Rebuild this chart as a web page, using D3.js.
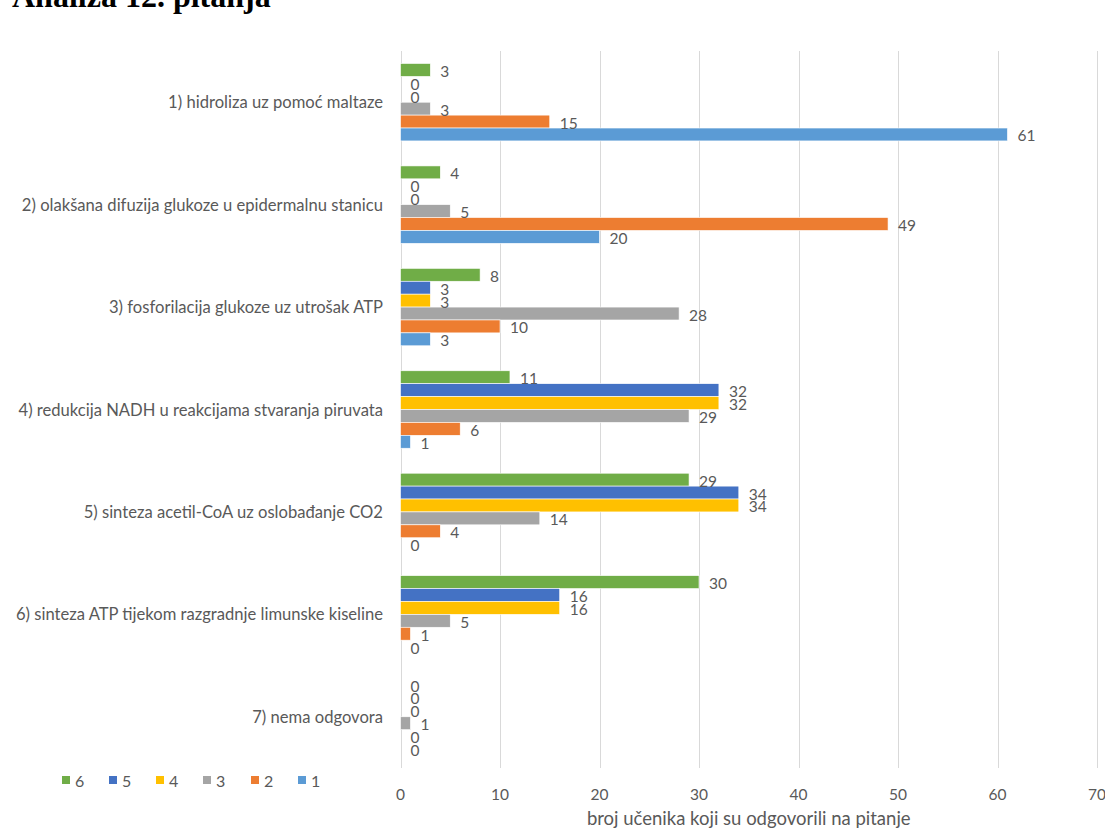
<!DOCTYPE html>
<html>
<head>
<meta charset="utf-8">
<script src="https://cdn.jsdelivr.net/npm/d3@7"></script>
<style>
  html, body { margin: 0; padding: 0; background: #fff; }
  svg { display: block; }
</style>
</head>
<body>
<script>
const categories = [
  "1) hidroliza uz pomoć maltaze",
  "2) olakšana difuzija glukoze u epidermalnu stanicu",
  "3) fosforilacija glukoze uz utrošak ATP",
  "4) redukcija NADH u reakcijama stvaranja piruvata",
  "5) sinteza acetil-CoA uz oslobađanje CO2",
  "6) sinteza ATP tijekom razgradnje limunske kiseline",
  "7) nema odgovora"
];
const seriesNames = ["6", "5", "4", "3", "2", "1"];
const series6 = [3, 4, 8, 11, 29, 30, 0];
const series5 = [0, 0, 3, 32, 34, 16, 0];
const series4 = [0, 0, 3, 32, 34, 16, 0];
const series3 = [3, 5, 28, 29, 14, 5, 1];
const series2 = [15, 49, 10, 6, 4, 1, 0];
const series1 = [61, 20, 3, 1, 0, 0, 0];
const xTicks = [0, 10, 20, 30, 40, 50, 60, 70];
const seriesColors = ["#70AD47", "#4472C4", "#FFC000", "#A5A5A5", "#ED7D31", "#5B9BD5"];
const titleText = "Analiza 12. pitanja";
const xAxisTitle = "broj učenika koji su odgovorili na pitanje";

const seriesValues = [series6, series5, series4, series3, series2, series1];

const W = 1105, H = 837;
const svg = d3.select("body").append("svg").attr("width", W).attr("height", H);

const textColor = "#595959";
const font = "Lato, 'Open Sans', sans-serif";

const x = d3.scaleLinear().domain([0, 70]).range([400.5, 1097]);
const y = d3.scaleBand().domain(categories).range([51, 768]).padding(0);
const yInner = d3.scaleBand().domain(seriesNames).range([12.5, y.bandwidth() - 12.5]).padding(0);
const color = d3.scaleOrdinal().domain(seriesNames).range(seriesColors);

// Title (partially cut at top)
svg.append("text")
  .attr("x", 12).attr("y", 7)
  .attr("font-family", "'Liberation Serif', 'Times New Roman', serif")
  .attr("font-weight", "bold")
  .attr("font-size", 32)
  .attr("fill", "#000")
  .text(titleText);

// Gridlines
svg.append("g").selectAll("line").data(xTicks).join("line")
  .attr("x1", d => Math.round(x(d)) + 0.5).attr("x2", d => Math.round(x(d)) + 0.5)
  .attr("y1", 51).attr("y2", 768)
  .attr("stroke", "#D9D9D9").attr("stroke-width", 1);

// Tick labels
svg.append("g").selectAll("text").data(xTicks).join("text")
  .attr("x", d => x(d)).attr("y", 794)
  .attr("text-anchor", "middle").attr("dominant-baseline", "central")
  .attr("font-family", font).attr("font-size", 15.5).attr("fill", textColor)
  .text(d => d);

// Axis title
svg.append("text")
  .attr("x", (x(0) + x(70)) / 2).attr("y", 825)
  .attr("text-anchor", "middle")
  .attr("font-family", font).attr("font-size", 18.5).attr("fill", textColor)
  .text(xAxisTitle);

// Category labels
svg.append("g").selectAll("text").data(categories).join("text")
  .attr("x", 383).attr("y", d => y(d) + y.bandwidth() / 2)
  .attr("text-anchor", "end").attr("dominant-baseline", "central")
  .attr("font-family", font).attr("font-size", 16.6).attr("fill", textColor)
  .text(d => d);

// Bars
const flat = [];
categories.forEach((c, ci) => {
  seriesNames.forEach((s, si) => {
    flat.push({ cat: c, series: s, value: seriesValues[si][ci] });
  });
});

const groups = svg.append("g");
groups.selectAll("rect").data(flat).join("rect")
  .attr("x", x(0))
  .attr("y", d => y(d.cat) + yInner(d.series))
  .attr("width", d => x(d.value) - x(0))
  .attr("height", yInner.bandwidth())
  .attr("fill", d => color(d.series))
  .attr("stroke", "#fff").attr("stroke-width", 0.6);

// Data labels
groups.selectAll("text").data(flat).join("text")
  .attr("x", d => x(d.value) + 10)
  .attr("y", d => y(d.cat) + yInner(d.series) + yInner.bandwidth() / 2 + 1)
  .attr("dominant-baseline", "central")
  .attr("font-family", font).attr("font-size", 15.5).attr("fill", textColor)
  .text(d => d.value);

// Legend
const legendX = [62, 109, 156, 203, 251, 298];
const legend = svg.append("g").selectAll("g").data(seriesNames).join("g")
  .attr("transform", (d, i) => `translate(${legendX[i]},776)`);
legend.append("rect")
  .attr("width", 8).attr("height", 8)
  .attr("fill", d => color(d));
legend.append("text")
  .attr("x", 13).attr("y", 4.5)
  .attr("dominant-baseline", "central")
  .attr("font-family", font).attr("font-size", 16).attr("fill", textColor)
  .text(d => d);
</script>
</body>
</html>
